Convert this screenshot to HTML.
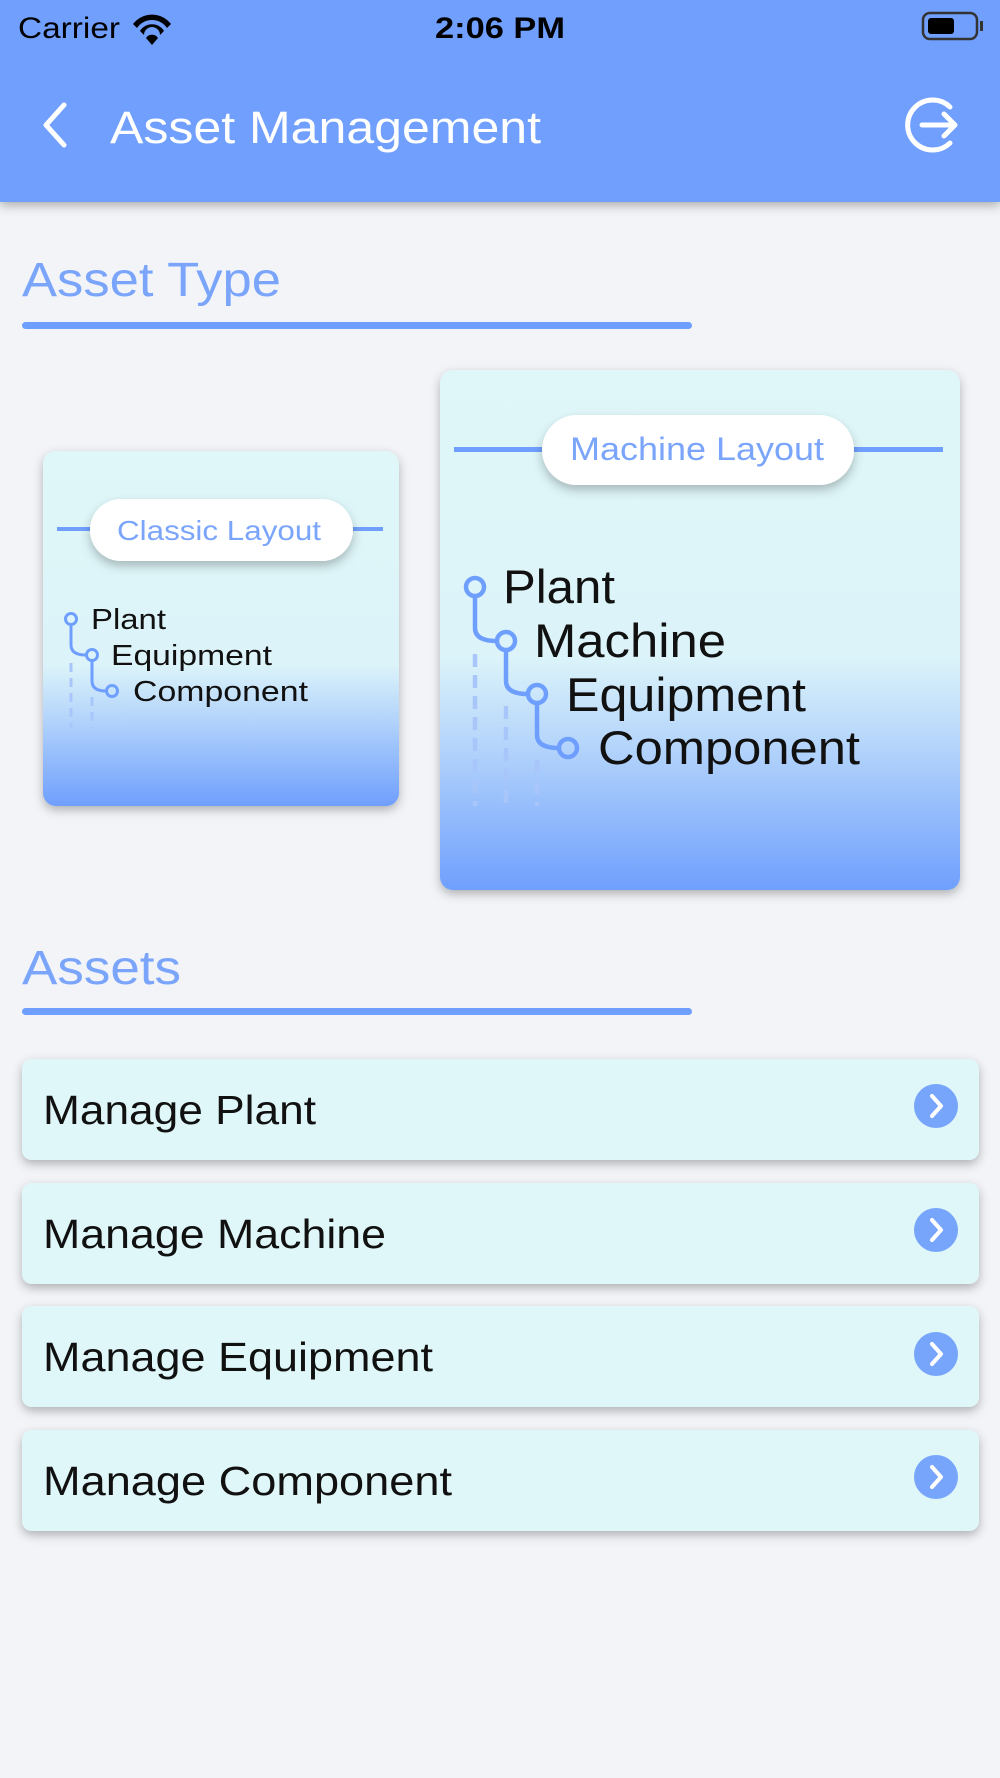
<!DOCTYPE html>
<html><head><meta charset="utf-8"><style>
html,body{margin:0;padding:0;background:#f2f4f8;}
svg{display:block;font-family:"Liberation Sans",sans-serif;}
</style></head><body>
<svg width="1000" height="1778" viewBox="0 0 1000 1778" xmlns="http://www.w3.org/2000/svg">
<defs>
<filter id="sh" x="-10%" y="-10%" width="120%" height="130%"><feDropShadow dx="0" dy="4" stdDeviation="5" flood-color="#000" flood-opacity="0.28"/></filter>
<filter id="sh2" x="-10%" y="-20%" width="120%" height="160%"><feDropShadow dx="0" dy="5" stdDeviation="5" flood-color="#000" flood-opacity="0.25"/></filter>
<linearGradient id="g1" x1="0" y1="0" x2="0" y2="1">
<stop offset="0" stop-color="#dff7f8"/><stop offset="0.6" stop-color="#dcf4f9"/><stop offset="0.75" stop-color="#b5d5fb"/><stop offset="1" stop-color="#6f9ffd"/></linearGradient>
<linearGradient id="g2" x1="0" y1="0" x2="0" y2="1">
<stop offset="0" stop-color="#dff7f8"/><stop offset="0.55" stop-color="#dcf4f9"/><stop offset="0.72" stop-color="#b5d5fb"/><stop offset="1" stop-color="#6f9ffd"/></linearGradient>
</defs>
<rect width="1000" height="1778" fill="#f2f4f8"/>
<!-- header -->
<rect x="0" y="0" width="1000" height="202" fill="#6f9ffe" filter="url(#sh)"/>
<text x="18" y="38" font-size="30" fill="#000" textLength="102" lengthAdjust="spacingAndGlyphs">Carrier</text>
<g fill="#000"><path d="M133 24 a24 24 0 0 1 38 0 l-4 4 a18 18 0 0 0 -30 0z"/><path d="M140 31 a14 14 0 0 1 24 0 l-4 4 a8 8 0 0 0 -16 0z"/><path d="M146 38 l6 7 l6 -7 a7 7 0 0 0 -12 0z"/></g>
<text x="435" y="38" font-size="30" font-weight="bold" fill="#000" textLength="130" lengthAdjust="spacingAndGlyphs">2:06 PM</text>
<rect x="923" y="13" width="54" height="26" rx="7" fill="none" stroke="#333" stroke-width="2.5"/>
<rect x="928" y="18" width="26" height="16" rx="3" fill="#000"/>
<rect x="980" y="21" width="3" height="10" fill="#333"/>
<path d="M64 105 L46 125 L64 145" fill="none" stroke="#fff" stroke-width="5" stroke-linecap="round" stroke-linejoin="round"/>
<text x="110" y="143" font-size="45" fill="#fff" textLength="431" lengthAdjust="spacingAndGlyphs">Asset Management</text>
<path d="M950 107 A25 25 0 1 0 950 143" fill="none" stroke="#fff" stroke-width="5" stroke-linecap="round"/>
<path d="M922 125 H955 M944 114 L955 125 L944 136" fill="none" stroke="#fff" stroke-width="5" stroke-linecap="round" stroke-linejoin="round"/>
<!-- Asset type -->
<text x="22" y="296" font-size="48" fill="#7aa5fb" textLength="259" lengthAdjust="spacingAndGlyphs">Asset Type</text>
<rect x="22" y="322" width="670" height="7" rx="3.5" fill="#6f9ffe"/>
<!-- classic card -->
<rect x="43" y="451" width="356" height="355" rx="13" fill="url(#g1)" filter="url(#sh)"/>
<rect x="57" y="527" width="326" height="4" fill="#6f9ffe"/>
<rect x="90" y="499" width="263" height="62" rx="31" fill="#fff" filter="url(#sh2)"/>
<text x="117" y="540" font-size="28" fill="#7aa5fb" textLength="204" lengthAdjust="spacingAndGlyphs">Classic Layout</text>
<g fill="none" stroke="#6f9ffe" stroke-width="3">
<circle cx="71" cy="619" r="5.5"/><circle cx="92" cy="655" r="5.5"/><circle cx="112" cy="691" r="5.5"/>
<path d="M71 625 V645 Q71 655 86 655"/><path d="M92 661 V681 Q92 691 106 691"/>
<path d="M71 663 V728 M92 697 V728" stroke="#a9c6fb" stroke-dasharray="9 6"/>
</g>
<g font-size="29" fill="#111">
<text x="91" y="629" textLength="75" lengthAdjust="spacingAndGlyphs">Plant</text><text x="111" y="665" textLength="161" lengthAdjust="spacingAndGlyphs">Equipment</text><text x="133" y="701" textLength="175" lengthAdjust="spacingAndGlyphs">Component</text>
</g>
<!-- machine card -->
<rect x="440" y="370" width="520" height="520" rx="13" fill="url(#g2)" filter="url(#sh)"/>
<rect x="454" y="447" width="489" height="5" fill="#6f9ffe"/>
<rect x="542" y="415" width="312" height="70" rx="35" fill="#fff" filter="url(#sh2)"/>
<text x="570" y="460" font-size="32" fill="#7aa5fb" textLength="254" lengthAdjust="spacingAndGlyphs">Machine Layout</text>
<g fill="none" stroke="#6f9ffe" stroke-width="4.5">
<circle cx="475" cy="587" r="9"/><circle cx="506" cy="641" r="9"/><circle cx="537" cy="694" r="9"/><circle cx="568" cy="748" r="9"/>
<path d="M475 596 V628 Q475 641 497 641"/><path d="M506 650 V681 Q506 694 528 694"/><path d="M537 703 V735 Q537 748 559 748"/>
<path d="M475 654 V806 M506 706 V806 M537 760 V806" stroke="#a9c6fb" stroke-dasharray="13 8"/>
</g>
<g font-size="47" fill="#111">
<text x="503" y="603" textLength="112" lengthAdjust="spacingAndGlyphs">Plant</text><text x="534" y="657" textLength="192" lengthAdjust="spacingAndGlyphs">Machine</text><text x="566" y="711" textLength="240" lengthAdjust="spacingAndGlyphs">Equipment</text><text x="598" y="764" textLength="262" lengthAdjust="spacingAndGlyphs">Component</text>
</g>
<!-- Assets -->
<text x="22" y="984" font-size="48" fill="#7aa5fb" textLength="159" lengthAdjust="spacingAndGlyphs">Assets</text>
<rect x="22" y="1008" width="670" height="7" rx="3.5" fill="#6f9ffe"/>
<g>
<rect x="22" y="1059" width="957" height="101" rx="10" fill="#dff7f9" filter="url(#sh)"/>
<text x="43" y="1124" font-size="41" fill="#111" textLength="273" lengthAdjust="spacingAndGlyphs">Manage Plant</text>
<rect x="22" y="1183" width="957" height="101" rx="10" fill="#dff7f9" filter="url(#sh)"/>
<text x="43" y="1248" font-size="41" fill="#111" textLength="343" lengthAdjust="spacingAndGlyphs">Manage Machine</text>
<rect x="22" y="1306" width="957" height="101" rx="10" fill="#dff7f9" filter="url(#sh)"/>
<text x="43" y="1371" font-size="41" fill="#111" textLength="390" lengthAdjust="spacingAndGlyphs">Manage Equipment</text>
<rect x="22" y="1430" width="957" height="101" rx="10" fill="#dff7f9" filter="url(#sh)"/>
<text x="43" y="1495" font-size="41" fill="#111" textLength="409" lengthAdjust="spacingAndGlyphs">Manage Component</text>
</g>
<g fill="#78a5fc">
<circle cx="936" cy="1106" r="22"/><circle cx="936" cy="1230" r="22"/><circle cx="936" cy="1354" r="22"/><circle cx="936" cy="1477" r="22"/>
</g>
<g fill="none" stroke="#fff" stroke-width="4" stroke-linecap="round" stroke-linejoin="round">
<path d="M932 1096 L941 1106 L932 1116"/><path d="M932 1220 L941 1230 L932 1240"/><path d="M932 1344 L941 1354 L932 1364"/><path d="M932 1467 L941 1477 L932 1487"/>
</g>
</svg>
</body></html>
